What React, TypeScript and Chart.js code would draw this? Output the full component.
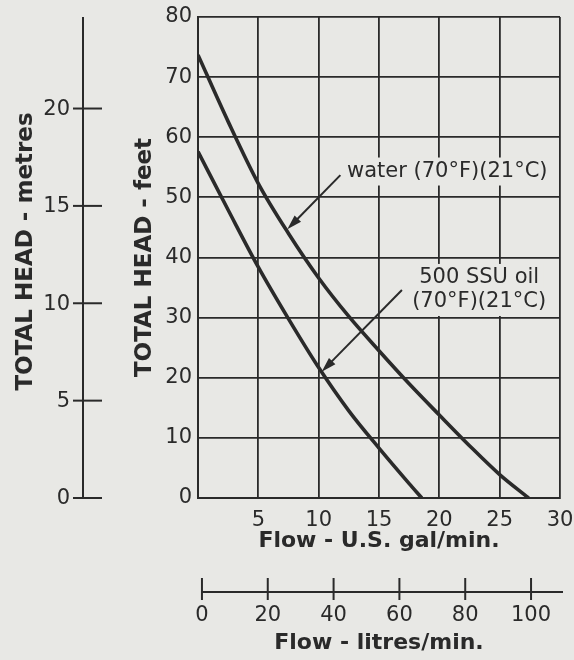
import React, { useEffect, useRef } from 'react';
import { Chart, registerables } from 'chart.js';

Chart.register(...registerables);

// ---- data ----
const galTickStep = 5;
const feetTickStep = 10;
const waterFlow = [0, 2.5, 5, 7.5, 10, 12.5, 15, 17.5, 20, 22.5, 25, 27.4];
const waterHead = [73.7, 62.6, 52.3, 44.0, 36.6, 30.2, 24.5, 19.0, 13.8, 8.7, 3.9, 0];
const oilFlow = [0, 2.5, 5, 7.5, 10, 12.5, 15, 17.5, 18.55];
const oilHead = [57.6, 47.9, 38.4, 29.8, 21.7, 14.5, 8.3, 2.4, 0];
const metreTicks = [0, 5, 10, 15, 20];
const litreTicks = [0, 20, 40, 60, 80, 100];
const waterLabel = ['water (70°F)(21°C)'];
const oilLabel = ['500 SSU oil', '(70°F)(21°C)'];
// annotation anchors in data units [gal/min, feet]
const waterLabelAt = [12.35, 54.3];
const oilLabelAt = [23.3, 36.6, 32.6];
const waterArrow = [11.8, 53.7, 7.4, 44.7];
const oilArrow = [16.9, 34.6, 10.25, 21.0];

const PAPER = '#e8e8e5';
const INK = '#2a2a2a';
const FONT = 'DejaVu Sans';

function drawArrow(ctx: CanvasRenderingContext2D, x1: number, y1: number, x2: number, y2: number) {
  const ang = Math.atan2(y2 - y1, x2 - x1);
  const len = 15;
  const half = 4.5;
  ctx.save();
  ctx.strokeStyle = INK;
  ctx.fillStyle = INK;
  ctx.lineWidth = 2;
  ctx.beginPath();
  ctx.moveTo(x1, y1);
  ctx.lineTo(x2 - Math.cos(ang) * len * 0.8, y2 - Math.sin(ang) * len * 0.8);
  ctx.stroke();
  ctx.beginPath();
  ctx.moveTo(x2, y2);
  ctx.lineTo(x2 - Math.cos(ang) * len - Math.sin(ang) * half, y2 - Math.sin(ang) * len + Math.cos(ang) * half);
  ctx.lineTo(x2 - Math.cos(ang) * len + Math.sin(ang) * half, y2 - Math.sin(ang) * len - Math.cos(ang) * half);
  ctx.closePath();
  ctx.fill();
  ctx.restore();
}

function boxedText(ctx: CanvasRenderingContext2D, text: string, x: number, y: number, align: CanvasTextAlign) {
  ctx.save();
  ctx.font = `21px "${FONT}"`;
  ctx.textAlign = align;
  ctx.textBaseline = 'middle';
  const w = ctx.measureText(text).width;
  const left = align === 'left' ? x : align === 'center' ? x - w / 2 : x - w;
  ctx.fillStyle = PAPER;
  ctx.fillRect(left - 4, y - 14, w + 8, 28);
  ctx.fillStyle = INK;
  ctx.fillText(text, x, y);
  ctx.restore();
}

const decor = {
  id: 'decor',
  beforeDraw(chart: any) {
    const { ctx, width, height } = chart;
    ctx.save();
    ctx.fillStyle = PAPER;
    ctx.fillRect(0, 0, width, height);
    ctx.restore();
  },
  afterDraw(chart: any) {
    const { ctx } = chart;
    const x = chart.scales.x;
    const y = chart.scales.y;
    const x2 = chart.scales.x2;
    const y2 = chart.scales.y2;

    ctx.save();
    ctx.strokeStyle = INK;
    ctx.fillStyle = INK;
    ctx.lineWidth = 2;

    // metres axis
    const axX = 83;
    ctx.beginPath();
    ctx.moveTo(axX, y2.getPixelForValue(0) + 1);
    ctx.lineTo(axX, y2.top);
    ctx.stroke();
    ctx.font = `21px "${FONT}"`;
    ctx.textAlign = 'right';
    ctx.textBaseline = 'middle';
    metreTicks.forEach((m) => {
      const py = y2.getPixelForValue(m);
      ctx.beginPath();
      ctx.moveTo(axX - 10, py);
      ctx.lineTo(axX + 19, py);
      ctx.stroke();
      ctx.fillText(String(m), axX - 13, py + 1);
    });
    ctx.save();
    ctx.translate(26, (y2.top + y2.bottom) / 2 - 6);
    ctx.rotate(-Math.PI / 2);
    ctx.font = `bold 23px "${FONT}"`;
    ctx.textAlign = 'center';
    ctx.fillText('TOTAL HEAD - metres', 0, 0);
    ctx.restore();

    // litres axis
    const axY = 592;
    ctx.beginPath();
    ctx.moveTo(x2.getPixelForValue(0), axY);
    ctx.lineTo(x2.right + 3, axY);
    ctx.stroke();
    ctx.textAlign = 'center';
    ctx.textBaseline = 'middle';
    ctx.font = `21px "${FONT}"`;
    litreTicks.forEach((l) => {
      const px = x2.getPixelForValue(l);
      ctx.beginPath();
      ctx.moveTo(px, axY - 14);
      ctx.lineTo(px, axY + 8);
      ctx.stroke();
      ctx.fillText(String(l), px, 616);
    });
    ctx.font = `bold 22px "${FONT}"`;
    ctx.fillText('Flow - litres/min.', (x2.left + x2.right) / 2, 643);
    ctx.restore();

    // annotations
    drawArrow(ctx, x.getPixelForValue(waterArrow[0]), y.getPixelForValue(waterArrow[1]),
      x.getPixelForValue(waterArrow[2]), y.getPixelForValue(waterArrow[3]));
    drawArrow(ctx, x.getPixelForValue(oilArrow[0]), y.getPixelForValue(oilArrow[1]),
      x.getPixelForValue(oilArrow[2]), y.getPixelForValue(oilArrow[3]));
    boxedText(ctx, waterLabel[0], x.getPixelForValue(waterLabelAt[0]), y.getPixelForValue(waterLabelAt[1]), 'left');
    boxedText(ctx, oilLabel[0], x.getPixelForValue(oilLabelAt[0]), y.getPixelForValue(oilLabelAt[1]), 'center');
    boxedText(ctx, oilLabel[1], x.getPixelForValue(oilLabelAt[0]), y.getPixelForValue(oilLabelAt[2]), 'center');
  },
};

export default function App() {
  const ref = useRef<HTMLCanvasElement>(null);
  useEffect(() => {
    if (!ref.current) return;
    Chart.defaults.font.family = FONT;
    Chart.defaults.color = INK;
    const chart = new Chart(ref.current, {
      type: 'line',
      data: {
        datasets: [
          {
            label: 'water (70°F)(21°C)',
            data: waterFlow.map((f, i) => ({ x: f, y: waterHead[i] })),
            borderColor: INK,
            borderWidth: 3.6,
            pointRadius: 0,
            cubicInterpolationMode: 'monotone',
            fill: false,
          },
          {
            label: '500 SSU oil (70°F)(21°C)',
            data: oilFlow.map((f, i) => ({ x: f, y: oilHead[i] })),
            borderColor: INK,
            borderWidth: 3.6,
            pointRadius: 0,
            cubicInterpolationMode: 'monotone',
            fill: false,
          },
        ],
      },
      options: {
        responsive: false,
        animation: false,
        events: [],
        layout: { padding: { left: 128, top: 17, right: 14, bottom: 102 } },
        plugins: { legend: { display: false }, tooltip: { enabled: false } },
        scales: {
          x: {
            type: 'linear',
            position: 'bottom',
            min: 0,
            max: 30,
            afterFit: (s: any) => { s.height = 60; },
            ticks: {
              stepSize: galTickStep,
              padding: 0,
              maxRotation: 0,
              font: { size: 21 },
              color: INK,
              callback: (v: any) => (v === 0 ? '' : String(v)),
            },
            grid: { color: INK, lineWidth: 1.8, drawTicks: true, tickLength: 10, tickColor: 'rgba(0,0,0,0)' },
            border: { color: INK, width: 2 },
            title: {
              display: true,
              text: 'Flow - U.S. gal/min.',
              font: { size: 22, weight: 'bold' },
              color: INK,
            },
          },
          y: {
            type: 'linear',
            position: 'left',
            min: 0,
            max: 80,
            afterFit: (s: any) => { s.width = 70; },
            ticks: { stepSize: feetTickStep, padding: 0, font: { size: 21 }, color: INK },
            grid: { color: INK, lineWidth: 1.8, drawTicks: true, tickLength: 6, tickColor: 'rgba(0,0,0,0)' },
            border: { color: INK, width: 2 },
            title: {
              display: true,
              text: 'TOTAL HEAD - feet',
              font: { size: 23, weight: 'bold' },
              color: INK,
              padding: { top: 3, bottom: 4 },
            },
          },
          x2: { type: 'linear', position: 'bottom', display: false, min: -1.2, max: 108.8 },
          y2: { type: 'linear', position: 'left', display: false, min: 0, max: 24.7 },
        },
      },
      plugins: [decor],
    } as any);
    return () => chart.destroy();
  }, []);
  return (
    <div style={{ position: 'absolute', left: 0, top: 0, width: 574, height: 660 }}>
      <canvas ref={ref} width={574} height={660} style={{ display: 'block' }} />
    </div>
  );
}
